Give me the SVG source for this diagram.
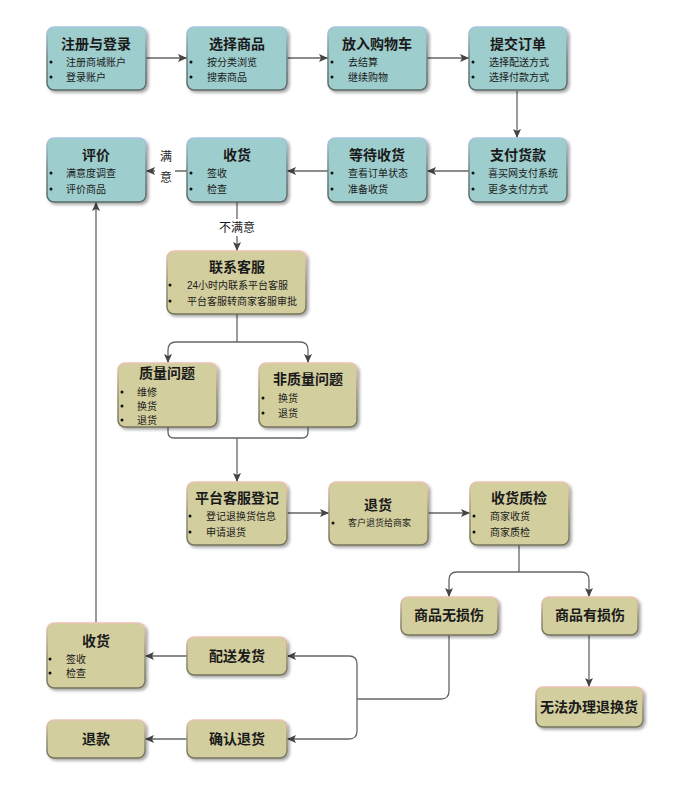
<svg xmlns="http://www.w3.org/2000/svg" width="692" height="788" viewBox="0 0 692 788">
<defs>
<filter id="sh" x="-10%" y="-10%" width="130%" height="140%">
<feDropShadow dx="2" dy="2" stdDeviation="1.5" flood-color="#000" flood-opacity="0.35"/>
</filter>
<linearGradient id="tealStroke" x1="0" y1="0" x2="0" y2="1">
<stop offset="0" stop-color="#a9c8e0"/>
<stop offset="0.5" stop-color="#6e8484"/>
<stop offset="1" stop-color="#5c6a6a"/>
</linearGradient>
<linearGradient id="khakiStroke" x1="0" y1="0" x2="0" y2="1">
<stop offset="0" stop-color="#ecc4b4"/>
<stop offset="0.5" stop-color="#9a9478"/>
<stop offset="1" stop-color="#75735c"/>
</linearGradient>
<marker id="ah" markerWidth="10" markerHeight="10" refX="9" refY="5" orient="auto" markerUnits="userSpaceOnUse">
<path d="M0,1 L9,5 L0,9 L2,5 Z" fill="#444"/>
</marker>
</defs>
<style>
.teal{fill:#9dcdcc;stroke:url(#tealStroke);stroke-width:1.5;filter:url(#sh)}
.khaki{fill:#d2ce9e;stroke:url(#khakiStroke);stroke-width:1.5;filter:url(#sh)}
text{font-family:"Liberation Sans","Noto Sans CJK SC",sans-serif;fill:#1a1a1a}
.t{font-size:14px;font-weight:bold;text-anchor:middle}
.b{font-size:10px}
.s{font-size:9px}
.lbl{font-size:12px;text-anchor:middle}
.dot{fill:#111}
.c{fill:none;stroke:#666;stroke-width:1.3}
.ca{fill:none;stroke:#666;stroke-width:1.3;marker-end:url(#ah)}
</style>
<rect width="692" height="788" fill="#fff"/>

<g id="connectors">
<path class="ca" d="M146,58 H187"/>
<path class="ca" d="M287,58 H328"/>
<path class="ca" d="M427,58 H469"/>
<path class="ca" d="M517,91 V138"/>
<path class="ca" d="M469,171 H427"/>
<path class="ca" d="M328,171 H287"/>
<path class="ca" d="M187,171 H146"/>
<path class="ca" d="M237,202 V251"/>
<path class="c" d="M237,314 V342"/>
<path class="ca" d="M237,342 H176 Q168,342 168,350 V363"/>
<path class="ca" d="M237,342 H300 Q308,342 308,350 V363"/>
<path class="c" d="M168,427 V432 Q168,438 174,438 H302 Q308,438 308,432 V427"/>
<path class="ca" d="M237,438 V482"/>
<path class="ca" d="M287,513 H329"/>
<path class="ca" d="M428,513 H470"/>
<path class="c" d="M519,545 V572"/>
<path class="ca" d="M519,572 H457 Q449,572 449,580 V597"/>
<path class="ca" d="M519,572 H581 Q589,572 589,580 V597"/>
<path class="ca" d="M589,635 V687"/>
<path class="c" d="M449,635 V691 Q449,699 441,699 H357"/>
<path class="ca" d="M357,699 V664 Q357,656 349,656 H287"/>
<path class="ca" d="M357,699 V731 Q357,739 349,739 H287"/>
<path class="ca" d="M187,656 H145"/>
<path class="ca" d="M187,739 H145"/>
<path class="ca" d="M96,623 V202"/>
<rect x="155" y="145" width="20" height="42" fill="#fff"/>
<text class="lbl" x="166" y="161">满</text>
<text class="lbl" x="166" y="182">意</text>
<rect x="213" y="219" width="48" height="17" fill="#fff"/>
<text class="lbl" x="237" y="232">不满意</text>
</g>

<g id="n1">
<rect class="teal" x="47" y="27" width="99" height="63" rx="7"/>
<text class="t" x="96" y="49">注册与登录</text>
<circle class="dot" cx="51" cy="62" r="1.5"/><text class="b" x="66" y="66">注册商城账户</text>
<circle class="dot" cx="51" cy="77" r="1.5"/><text class="b" x="66" y="81">登录账户</text>
</g>
<g id="n2">
<rect class="teal" x="187" y="27" width="100" height="63" rx="7"/>
<text class="t" x="237" y="49">选择商品</text>
<circle class="dot" cx="191" cy="62" r="1.5"/><text class="b" x="207" y="66">按分类浏览</text>
<circle class="dot" cx="191" cy="77" r="1.5"/><text class="b" x="207" y="81">搜索商品</text>
</g>
<g id="n3">
<rect class="teal" x="328" y="27" width="99" height="63" rx="7"/>
<text class="t" x="377" y="49">放入购物车</text>
<circle class="dot" cx="332" cy="62" r="1.5"/><text class="b" x="348" y="66">去结算</text>
<circle class="dot" cx="332" cy="77" r="1.5"/><text class="b" x="348" y="81">继续购物</text>
</g>
<g id="n4">
<rect class="teal" x="469" y="27" width="98" height="63" rx="7"/>
<text class="t" x="518" y="49">提交订单</text>
<circle class="dot" cx="473" cy="62" r="1.5"/><text class="b" x="489" y="66">选择配送方式</text>
<circle class="dot" cx="473" cy="77" r="1.5"/><text class="b" x="489" y="81">选择付款方式</text>
</g>

<g id="n5">
<rect class="teal" x="47" y="138" width="99" height="64" rx="7"/>
<text class="t" x="96" y="160">评价</text>
<circle class="dot" cx="51" cy="173" r="1.5"/><text class="b" x="66" y="177">满意度调查</text>
<circle class="dot" cx="51" cy="189" r="1.5"/><text class="b" x="66" y="193">评价商品</text>
</g>
<g id="n6">
<rect class="teal" x="187" y="138" width="100" height="64" rx="7"/>
<text class="t" x="237" y="160">收货</text>
<circle class="dot" cx="191" cy="173" r="1.5"/><text class="b" x="207" y="177">签收</text>
<circle class="dot" cx="191" cy="189" r="1.5"/><text class="b" x="207" y="193">检查</text>
</g>
<g id="n7">
<rect class="teal" x="328" y="138" width="99" height="64" rx="7"/>
<text class="t" x="377" y="160">等待收货</text>
<circle class="dot" cx="332" cy="173" r="1.5"/><text class="b" x="348" y="177">查看订单状态</text>
<circle class="dot" cx="332" cy="189" r="1.5"/><text class="b" x="348" y="193">准备收货</text>
</g>
<g id="n8">
<rect class="teal" x="469" y="138" width="98" height="64" rx="7"/>
<text class="t" x="518" y="160">支付货款</text>
<circle class="dot" cx="473" cy="173" r="1.5"/><text class="b" x="488" y="177">喜买网支付系统</text>
<circle class="dot" cx="473" cy="189" r="1.5"/><text class="b" x="488" y="193">更多支付方式</text>
</g>

<g id="n9">
<rect class="khaki" x="167" y="251" width="139" height="63" rx="7"/>
<text class="t" x="237" y="272">联系客服</text>
<circle class="dot" cx="170" cy="285" r="1.5"/><text class="b" x="187" y="289">24小时内联系平台客服</text>
<circle class="dot" cx="170" cy="301" r="1.5"/><text class="b" x="187" y="305">平台客服转商家客服审批</text>
</g>
<g id="n10">
<rect class="khaki" x="118" y="363" width="99" height="64" rx="7"/>
<text class="t" x="167" y="378">质量问题</text>
<circle class="dot" cx="122" cy="392" r="1.5"/><text class="b" x="137" y="396">维修</text>
<circle class="dot" cx="122" cy="406" r="1.5"/><text class="b" x="137" y="410">换货</text>
<circle class="dot" cx="122" cy="420" r="1.5"/><text class="b" x="137" y="424">退货</text>
</g>
<g id="n11">
<rect class="khaki" x="259" y="363" width="98" height="64" rx="7"/>
<text class="t" x="308" y="384">非质量问题</text>
<circle class="dot" cx="263" cy="398" r="1.5"/><text class="b" x="278" y="402">换货</text>
<circle class="dot" cx="263" cy="413" r="1.5"/><text class="b" x="278" y="417">退货</text>
</g>

<g id="n12">
<rect class="khaki" x="187" y="482" width="100" height="63" rx="7"/>
<text class="t" x="237" y="503">平台客服登记</text>
<circle class="dot" cx="190" cy="516" r="1.5"/><text class="b" x="206" y="520">登记退换货信息</text>
<circle class="dot" cx="190" cy="532" r="1.5"/><text class="b" x="206" y="536">申请退货</text>
</g>
<g id="n13">
<rect class="khaki" x="329" y="482" width="99" height="63" rx="7"/>
<text class="t" x="378" y="510">退货</text>
<circle class="dot" cx="333" cy="523" r="1.5"/><text class="s" x="348" y="526">客户退货给商家</text>
</g>
<g id="n14">
<rect class="khaki" x="470" y="482" width="99" height="63" rx="7"/>
<text class="t" x="519" y="503">收货质检</text>
<circle class="dot" cx="474" cy="516" r="1.5"/><text class="b" x="490" y="520">商家收货</text>
<circle class="dot" cx="474" cy="532" r="1.5"/><text class="b" x="490" y="536">商家质检</text>
</g>

<g id="n15">
<rect class="khaki" x="401" y="597" width="97" height="38" rx="7"/>
<text class="t" x="449" y="620">商品无损伤</text>
</g>
<g id="n16">
<rect class="khaki" x="542" y="597" width="96" height="38" rx="7"/>
<text class="t" x="590" y="620">商品有损伤</text>
</g>
<g id="n17">
<rect class="khaki" x="536" y="687" width="107" height="40" rx="7"/>
<text class="t" x="589" y="712">无法办理退换货</text>
</g>

<g id="n18">
<rect class="khaki" x="47" y="623" width="98" height="65" rx="7"/>
<text class="t" x="96" y="646">收货</text>
<circle class="dot" cx="50" cy="659" r="1.5"/><text class="b" x="66" y="663">签收</text>
<circle class="dot" cx="50" cy="673" r="1.5"/><text class="b" x="66" y="677">检查</text>
</g>
<g id="n19">
<rect class="khaki" x="187" y="637" width="100" height="38" rx="7"/>
<text class="t" x="237" y="661">配送发货</text>
</g>
<g id="n20">
<rect class="khaki" x="47" y="720" width="98" height="38" rx="7"/>
<text class="t" x="96" y="744">退款</text>
</g>
<g id="n21">
<rect class="khaki" x="187" y="720" width="100" height="38" rx="7"/>
<text class="t" x="237" y="744">确认退货</text>
</g>
</svg>
